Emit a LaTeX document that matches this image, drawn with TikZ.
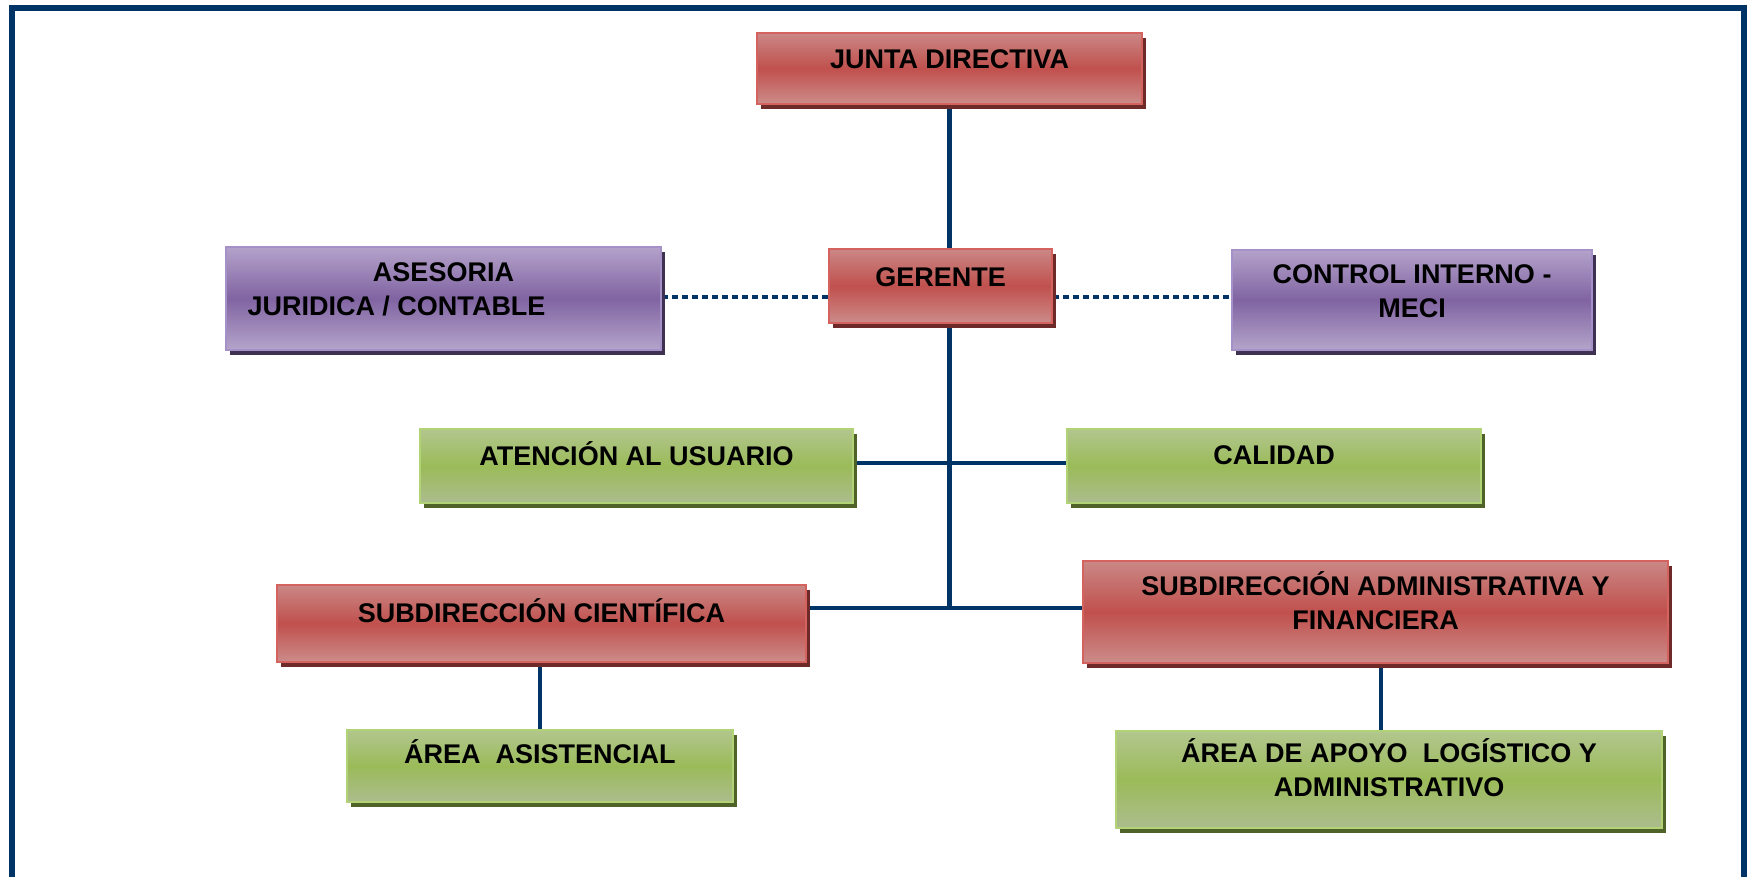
\documentclass[tikz,border=0pt]{standalone}
\usepackage{fontspec}
\setmainfont{Liberation Sans}
\usetikzlibrary{calc,shadows,backgrounds}
\definecolor{navy}{RGB}{0,51,102}
\definecolor{rtop}{RGB}{202,136,134}
\definecolor{rmid}{RGB}{192,80,77}
\definecolor{rbot}{RGB}{204,140,138}
\definecolor{rbrd}{RGB}{212,98,95}
\definecolor{rshd}{RGB}{110,42,40}
\definecolor{ptop}{RGB}{180,162,202}
\definecolor{pmid}{RGB}{128,100,162}
\definecolor{pbot}{RGB}{180,164,202}
\definecolor{pbrd}{RGB}{165,145,200}
\definecolor{pshd}{RGB}{63,49,81}
\definecolor{gtop}{RGB}{178,198,142}
\definecolor{gmid}{RGB}{155,187,89}
\definecolor{gbot}{RGB}{172,188,142}
\definecolor{gbrd}{RGB}{178,210,118}
\definecolor{gshd}{RGB}{79,98,40}
\tikzset{
  boxbase/.style={rectangle, inner sep=0pt, line width=2pt},
  redbox/.style={boxbase, draw=rbrd, top color=rtop, bottom color=rbot, middle color=rmid,
    drop shadow={shadow xshift=3.5pt, shadow yshift=-5pt, opacity=1, fill=rshd}},
  purbox/.style={boxbase, draw=pbrd, top color=ptop, bottom color=pbot, middle color=pmid,
    drop shadow={shadow xshift=3.5pt, shadow yshift=-5pt, opacity=1, fill=pshd}},
  grnbox/.style={boxbase, draw=gbrd, top color=gtop, bottom color=gbot, middle color=gmid,
    drop shadow={shadow xshift=3.5pt, shadow yshift=-5pt, opacity=1, fill=gshd}},
  lbl/.style={anchor=north, inner sep=0pt, align=center, text=black,
    font=\fontsize{27}{34}\selectfont\bfseries},
  conn/.style={draw=navy, line width=4.5pt},
  dotconn/.style={draw=navy, line width=4pt, dash pattern=on 6pt off 4pt},
  frameline/.style={draw=navy, line width=6pt}
}
\newcommand{\fs}{\rule{0pt}{25pt}}
\begin{document}
\begin{tikzpicture}[x=1pt,y=-1pt]
\useasboundingbox (0,0) rectangle (1755,876);
\draw[frameline] (12,890) -- (12,8) -- (1744,8) -- (1744,890);

% boxes
\node[redbox, minimum width=385pt, minimum height=71pt] (junta) at (949.5,68.5) {};
\node[redbox, minimum width=223pt, minimum height=74pt] (gerente) at (940.5,286) {};
\node[purbox, minimum width=435pt, minimum height=103pt] (asesoria) at (443.5,298.5) {};
\node[purbox, minimum width=360pt, minimum height=100pt] (control) at (1412,300) {};
\node[grnbox, minimum width=433pt, minimum height=74pt] (atencion) at (636.5,466) {};
\node[grnbox, minimum width=414pt, minimum height=74pt] (calidad) at (1274,466) {};
\node[redbox, minimum width=529pt, minimum height=77pt] (subc) at (541.5,623.5) {};
\node[redbox, minimum width=585pt, minimum height=102pt] (suba) at (1375.5,612) {};
\node[grnbox, minimum width=386pt, minimum height=72pt] (asist) at (540,766) {};
\node[grnbox, minimum width=546pt, minimum height=97pt] (apoyo) at (1389,779.5) {};

% texts
\node[lbl] (tjunta) at ($(junta.north)+(0,11.5)$) {\fs JUNTA DIRECTIVA};
\node[lbl] (tgerente) at ($(gerente.north)+(0,13)$) {\fs GERENTE};
\node[lbl] (tasesoria) at ($(asesoria.north)+(0,10)$) {\fs ASESORIA\\JURIDICA / CONTABLE\hspace*{94pt}};
\node[lbl] (tcontrol) at ($(control.north)+(0,9)$) {\fs CONTROL INTERNO -\\MECI};
\node[lbl] (tatencion) at ($(atencion.north)+(0,12)$) {\fs ATENCIÓN AL USUARIO};
\node[lbl] (tcalidad) at ($(calidad.north)+(0,11)$) {\fs CALIDAD};
\node[lbl] (tsubc) at ($(subc.north)+(0,13)$) {\fs SUBDIRECCIÓN CIENTÍFICA};
\node[lbl] (tsuba) at ($(suba.north)+(0,10)$) {\fs SUBDIRECCIÓN ADMINISTRATIVA Y\\FINANCIERA};
\node[lbl] (tasist) at ($(asist.north)+(0,9)$) {\fs ÁREA\ \ ASISTENCIAL};
\node[lbl] (tapoyo) at ($(apoyo.north)+(0,7)$) {\fs ÁREA DE APOYO\ \ LOGÍSTICO Y\\ADMINISTRATIVO};

% connectors
\coordinate (j2) at (949.5,608);
\coordinate (mh) at (949.5,463);
\coordinate (dl) at (0,297);
\coordinate (va) at (1381,700);
\begin{scope}[on background layer]
\draw[conn] (junta.south) -- (gerente.north -| junta.south);
\draw[conn] (gerente.south -| junta.south) -- (j2);
\draw[conn] (atencion.east |- mh) -- (calidad.west |- mh);
\draw[conn] (subc.east |- j2) -- (suba.west |- j2);
\draw[conn] (asist.north |- subc.south) -- (asist.north);
\draw[conn] (suba.south -| va) -- (apoyo.north -| va);
\draw[dotconn] (asesoria.east |- dl) -- (gerente.west |- dl);
\draw[dotconn] (gerente.east |- dl) -- (control.west |- dl);
\end{scope}
\end{tikzpicture}
\end{document}
